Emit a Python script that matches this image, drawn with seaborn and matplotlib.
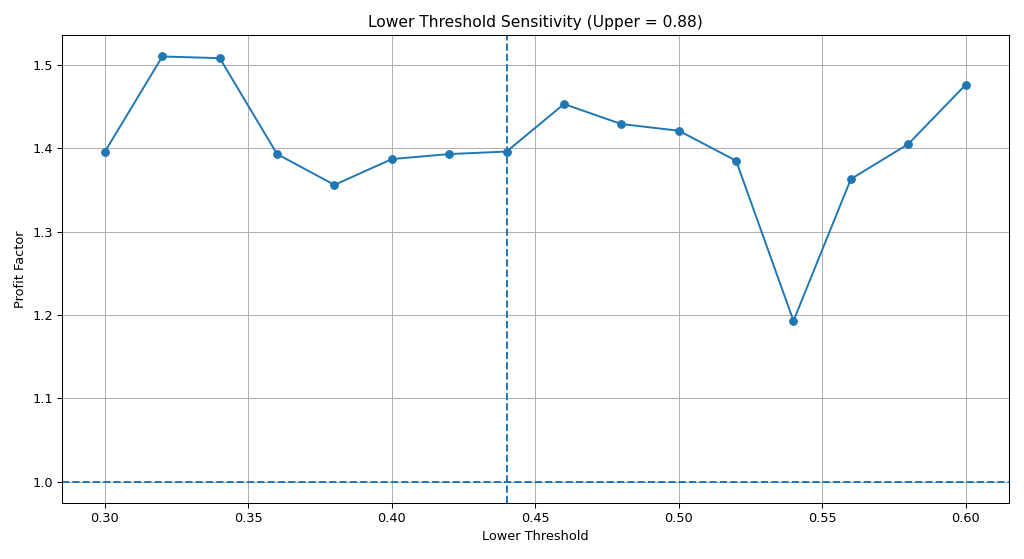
import matplotlib
matplotlib.use("Agg")
import matplotlib.pyplot as plt
import seaborn as sns
import pandas as pd

# Lower threshold sweep with upper fixed at 0.88
lower = [0.30, 0.32, 0.34, 0.36, 0.38, 0.40, 0.42, 0.44,
         0.46, 0.48, 0.50, 0.52, 0.54, 0.56, 0.58, 0.60]
profit_factor = [1.396, 1.510, 1.508, 1.393, 1.356, 1.387, 1.393, 1.396,
                 1.453, 1.429, 1.421, 1.385, 1.193, 1.363, 1.405, 1.476]
chosen_lower = 0.44
breakeven = 1.0

df = pd.DataFrame({"lower": lower, "pf": profit_factor})

dpi = 1024 / 11
fig, ax = plt.subplots(figsize=(11, 559 / dpi), dpi=dpi)
sns.lineplot(data=df, x="lower", y="pf", marker="o", color="#1f77b4",
             markersize=6, markeredgecolor="#1f77b4", ax=ax)
ax.axvline(chosen_lower, linestyle="--", color="#1f77b4")
ax.axhline(breakeven, linestyle="--", color="#1f77b4")
ax.set_title("Lower Threshold Sensitivity (Upper = 0.88)")
ax.set_xlabel("Lower Threshold")
ax.set_ylabel("Profit Factor")
ax.grid(True)
fig.subplots_adjust(left=0.0605, right=0.985, top=0.937, bottom=0.1)
plt.savefig("out.png", dpi=dpi)
